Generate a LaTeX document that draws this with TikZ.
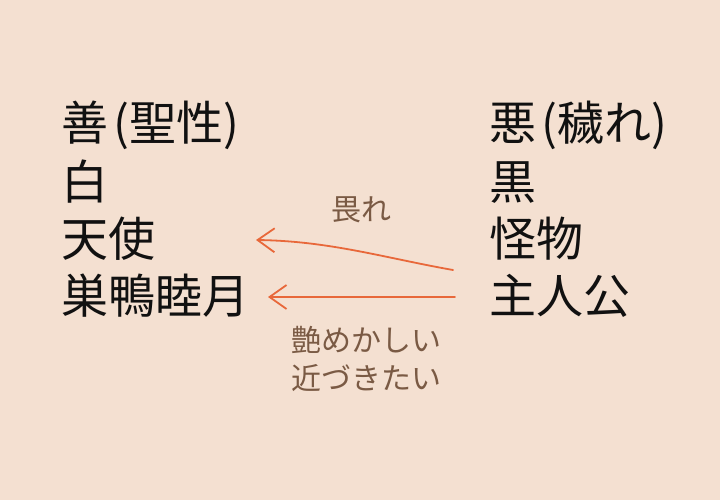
\documentclass[tikz,border=0pt]{standalone}
\usepackage{xcolor}
\usepackage{fontspec}
\setmainfont{Noto Sans CJK JP}
\usepackage{tikz}
\usetikzlibrary{positioning,arrows.meta,calc}
\definecolor{paper}  {HTML}{F4E0D1}
\definecolor{ink}    {HTML}{111111}
\definecolor{flame}  {HTML}{E8683A}
\definecolor{umber}  {HTML}{7A5A44}
\newcommand{\lp}{\hspace{5pt}(}
\newcommand{\rp}{)}
\tikzset{
  % --- nodes
  term/.style = {anchor=base west, inner sep=0pt, text=ink, font=\fontsize{47}{52}\selectfont},
  cue/.style  = {inner sep=0pt, text=umber, align=center,
                 font=\fontsize{30}{38}\selectfont},
  % --- edges
  pull/.style = {-{Straight Barb[length=17pt,width=24pt]}, line width=1.8pt,
                 draw=flame, line cap=round, line join=round},
}
\begin{document}
\begin{tikzpicture}[x=1pt,y=-1pt]
  \fill[paper] (0,0) rectangle (720,500);
  \useasboundingbox (0,0) rectangle (720,500);

  % light side
  \node[term] (good)   at (61,141) {善\lp 聖性\rp};
  \node[term] (white)  at (61,199) {白};
  \node[term] (angel)  at (61,256) {天使};
  \node[term] (mutsuki)at (61,313) {巣鴨睦月};

  % dark side
  \node[term] (evil)   at (489,141) {悪\lp 穢れ\rp};
  \node[term] (black)  at (489,199) {黒};
  \node[term] (beast)  at (489,256) {怪物};
  \node[term] (hero)   at (489,313) {主人公};

  % arrow ends
  \coordinate (fearA) at (453,270);
  \coordinate (fearB) at (256,240);
  \coordinate (lustA) at (455,297);
  \coordinate (lustB) at (268,297);

  % arrows
  \draw[pull] (fearA) .. controls (385,258) and (330,241) .. (fearB);
  \draw[pull] (lustA) -- (lustB);

  % labels
  \node[cue] (fear) at (361,210) {畏れ};
  \node[cue] (lust) at (366,359) {艶めかしい\\近づきたい};
\end{tikzpicture}
\end{document}
